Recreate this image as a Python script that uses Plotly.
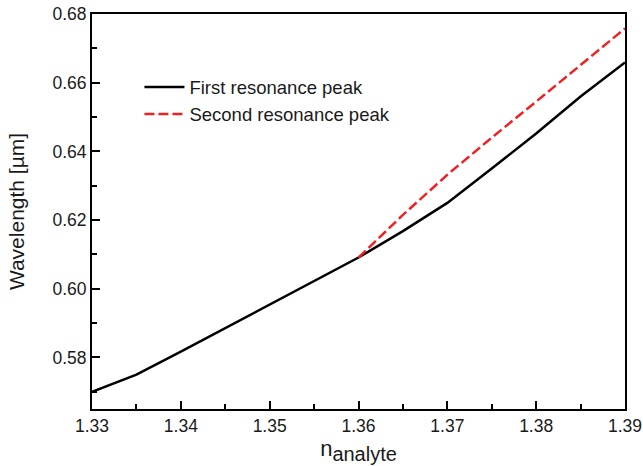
import plotly.graph_objects as go

n_first = [1.33, 1.335, 1.34, 1.345, 1.35, 1.355, 1.36, 1.365, 1.37, 1.375, 1.38, 1.385, 1.39]
wl_first = [0.570, 0.575, 0.5817, 0.5885, 0.5953, 0.6022, 0.6091, 0.6168, 0.6250, 0.6350, 0.6452, 0.6560, 0.6659]

n_second = [1.36, 1.365, 1.37, 1.375, 1.38, 1.385, 1.39]
wl_second = [0.6091, 0.6215, 0.6332, 0.6440, 0.6545, 0.6652, 0.6758]

x_ticks = [1.33, 1.34, 1.35, 1.36, 1.37, 1.38, 1.39]
y_ticks = [0.58, 0.60, 0.62, 0.64, 0.66, 0.68]

font_family = "Liberation Sans, Arial, sans-serif"
txt = "#1a1a1a"

fig = go.Figure()
fig.add_trace(go.Scatter(x=n_first, y=wl_first, mode="lines", name="First resonance peak",
                         line=dict(color="black", width=2.5)))
fig.add_trace(go.Scatter(x=n_second, y=wl_second, mode="lines", name="Second resonance peak",
                         line=dict(color="#ee2222", width=2.5, dash="10px,4px")))

fig.update_layout(
    width=643, height=466,
    margin=dict(l=92, r=18, t=14, b=57, autoexpand=False),
    plot_bgcolor="white", paper_bgcolor="white",
    font=dict(family=font_family, size=17, color=txt),
    showlegend=True,
    legend=dict(x=0.089, y=0.862, xanchor="left", yanchor="top", bgcolor="rgba(0,0,0,0)",
                font=dict(size=18.5, color=txt), tracegroupgap=0, itemwidth=40),
)
fig.update_xaxes(
    range=[1.33, 1.39], tickvals=x_ticks, ticktext=[f"{v:.2f}" for v in x_ticks],
    showline=True, linecolor="black", linewidth=2, mirror=True,
    ticks="inside", ticklen=8, tickwidth=2, tickcolor="black",
    minor=dict(dtick=0.005, ticks="inside", ticklen=5, tickwidth=2, tickcolor="black", showgrid=False),
    showgrid=False, zeroline=False, automargin=False,
    tickfont=dict(size=17.5, color=txt),
    title=dict(text="n<sub><span style='font-size:20px'>analyte</span></sub>",
               font=dict(size=22, color=txt), standoff=6),
)
fig.update_yaxes(
    range=[0.565, 0.68], tickvals=y_ticks, ticktext=[f"{v:.2f}" for v in y_ticks],
    showline=True, linecolor="black", linewidth=2, mirror=True,
    ticks="inside", ticklen=8, tickwidth=2, tickcolor="black",
    minor=dict(dtick=0.01, tick0=0.57, ticks="inside", ticklen=5, tickwidth=2, tickcolor="black", showgrid=False),
    showgrid=False, zeroline=False, automargin=False,
    tickfont=dict(size=17.5, color=txt),
    title=dict(text="Wavelength [µm]", font=dict(size=21, color=txt), standoff=22),
)

fig.write_html("out.html")
